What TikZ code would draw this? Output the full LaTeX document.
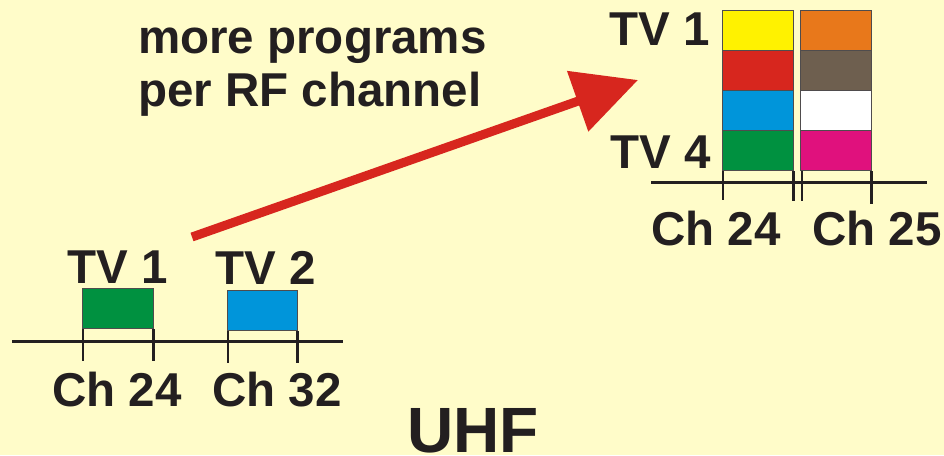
\documentclass[tikz,border=0pt]{standalone}
\usepackage{fontspec}
\setmainfont{Liberation Sans}
\usetikzlibrary{arrows.meta}
\definecolor{bg}{HTML}{FFFCC9}
\definecolor{ink}{HTML}{231F20}
\definecolor{cyel}{HTML}{FFF200}
\definecolor{cred}{HTML}{D7261E}
\definecolor{cblue}{HTML}{0095DA}
\definecolor{cgreen}{HTML}{009140}
\definecolor{corange}{HTML}{E8781B}
\definecolor{cbrown}{HTML}{6E5F4F}
\definecolor{cmag}{HTML}{E0117D}
\definecolor{arrowred}{HTML}{D7261E}
\tikzset{
  lbl/.style={inner sep=0pt, text=ink, font=\fontsize{47.5}{53}\selectfont\bfseries},
  big/.style={inner sep=0pt, text=ink, font=\fontsize{64}{64}\selectfont\bfseries},
  cell/.style={draw=ink!80, line width=1.2pt, inner sep=0pt, minimum width=71pt, minimum height=40pt, anchor=north west},
  axis/.style={draw=ink, line width=3pt},
  tick/.style={draw=ink, line width=2.6pt},
  bigarrow/.style={draw=arrowred, line width=9pt, -{Triangle[length=64pt,width=62pt]}}
}
\begin{document}
\begin{tikzpicture}[x=1pt,y=-1pt]
\useasboundingbox[fill=bg] (0,0) rectangle (944,455);

% left spectrum
\node[cell, fill=cgreen, minimum width=71pt] (lg) at (82,288) {};
\node[cell, fill=cblue, minimum width=70pt] (lb) at (227,290) {};
\coordinate (la0) at (12,341);
\coordinate (la1) at (343,341);
\draw[axis] (la0) -- (la1);
\draw[tick] ([xshift=1pt]lg.south west) -- ++(0,32);
\draw[tick] ([xshift=-1pt]lg.south east) -- ++(0,32);
\draw[tick] ([xshift=1pt]lb.south west) -- ++(0,32);
\draw[tick] ([xshift=-1pt]lb.south east) -- ++(0,32);
\node[lbl, anchor=base west] (ltv1) at (67,283) {TV 1};
\node[lbl, anchor=base west] (ltv2) at (215,284) {TV 2};
\node[lbl, anchor=base west] (lch24) at (52,406) {Ch 24};
\node[lbl, anchor=base west] (lch32) at (212,406) {Ch 32};
\node[big, anchor=base west] (uhf) at (407,452) {UHF};

% caption
\node[lbl, anchor=base west] (cap1) at (138,53) {more programs};
\node[lbl, anchor=base west] (cap2) at (138,106) {per RF channel};

% right spectrum
\node[cell, fill=cyel] (a1) at (722,10) {};
\node[cell, fill=cred] (a2) at (722,50) {};
\node[cell, fill=cblue] (a3) at (722,90) {};
\node[cell, fill=cgreen] (a4) at (722,130) {};
\node[cell, fill=corange] (b1) at (800,10) {};
\node[cell, fill=cbrown] (b2) at (800,50) {};
\node[cell, fill=white] (b3) at (800,90) {};
\node[cell, fill=cmag] (b4) at (800,130) {};
\coordinate (ra0) at (651,182);
\coordinate (ra1) at (927,182);
\draw[axis] (ra0) -- (ra1);
\draw[tick] ([xshift=1pt]a4.south west) -- ++(0,29);
\draw[tick] ([xshift=-1pt]a4.south east) -- ++(0,30);
\draw[tick] ([xshift=2pt]b4.south west) -- ++(0,30);
\draw[tick] ([xshift=-1pt]b4.south east) -- ++(0,33);
\node[lbl, anchor=base east] (rtv1) at (710,45) {TV 1};
\node[lbl, anchor=base east] (rtv4) at (711,168) {TV 4};
\node[lbl, anchor=base west] (rch24) at (651,245) {Ch 24};
\node[lbl, anchor=base west] (rch25) at (812,245) {Ch 25};

% arrow
\coordinate (tail) at (192,237);
\coordinate (tip) at (638,80);
\draw[bigarrow] (tail) -- (tip);
\end{tikzpicture}
\end{document}
